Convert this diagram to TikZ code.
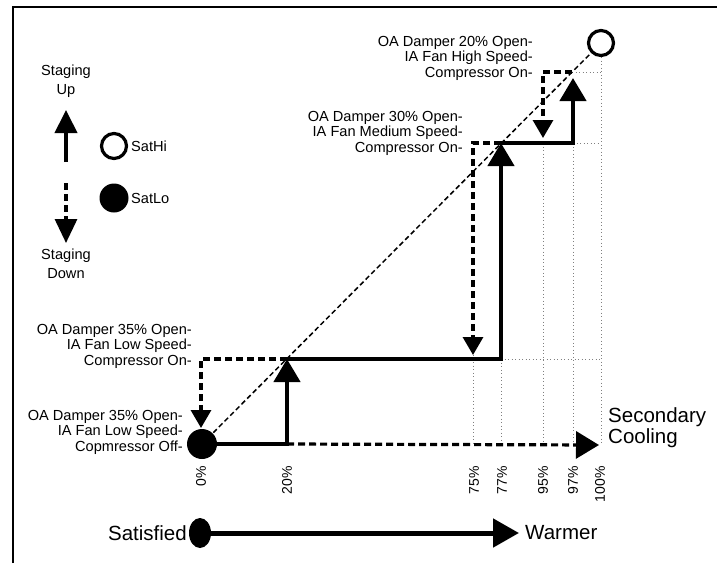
\documentclass[tikz,border=0pt]{standalone}
\usepackage{fontspec}
\setmainfont{Liberation Sans}
\usetikzlibrary{arrows.meta,shapes.geometric}
\begin{document}
\begin{tikzpicture}[x=1pt,y=-1pt,
  lbl/.style={font=\fontsize{14.6}{15.5}\selectfont, align=right, inner sep=0pt, anchor=east},
  leg/.style={font=\fontsize{14.6}{18.5}\selectfont, align=center, inner sep=0pt},
  big/.style={font=\fontsize{20.5}{21}\selectfont, inner sep=0pt},
  tick/.style={font=\fontsize{14}{14}\selectfont, rotate=90, anchor=east, inner sep=0pt},
  stair/.style={line width=4.5pt},
  stairarrow/.style={line width=4.5pt, -{Triangle[length=23pt,width=26pt]}},
  downarrow/.style={line width=3.2pt, dash pattern=on 7pt off 4pt, -{Triangle[length=18pt,width=20pt]}},
  diag/.style={line width=1.5pt, dash pattern=on 5pt off 3pt},
  gridline/.style={line width=0.9pt, gray, dash pattern=on 1pt off 2.5pt},
  openpt/.style={circle, draw, line width=3.2pt, fill=white, minimum size=25pt, inner sep=0pt},
  fullpt/.style={circle, fill, minimum size=30pt, inner sep=0pt}
]
\useasboundingbox (0,0) rectangle (717,563);
% frame
\draw[line width=2pt] (13,563) -- (13,6.5) -- (717,6.5);

% key coordinates
\coordinate (p0) at (202,444);
\coordinate (p20b) at (287,444);
\coordinate (p20t) at (287,359);
\coordinate (p77b) at (501,359);
\coordinate (p77t) at (501,143);
\coordinate (p97b) at (573,143);
\coordinate (p97t) at (573,78);
\coordinate (dg97) at (572,72);
\coordinate (phi) at (601,43);
\coordinate (d0c) at (201,359);
\coordinate (d0e) at (201,428);
\coordinate (d75c) at (473,143);
\coordinate (d75e) at (473,355);
\coordinate (d95c) at (543,72);
\coordinate (d95e) at (543,138);
\coordinate (secend) at (599,445);
\coordinate (g75) at (473,445);
\coordinate (g77) at (501,445);
\coordinate (g95t) at (543,143);
\coordinate (g95) at (543,445);
\coordinate (g97) at (573,445);
\coordinate (g100t) at (601,57);
\coordinate (g100) at (601,445);
\coordinate (h359) at (601,359);
\coordinate (h143) at (601,143);
\coordinate (h72) at (601,72);

% dotted grid
\draw[gridline] (d75e) -- (g75);
\draw[gridline] (p77b) -- (g77);
\draw[gridline] (g95t) -- (g95);
\draw[gridline] (p97b) -- (g97);
\draw[gridline] (g100t) -- (g100);
\draw[gridline] (p77b) -- (h359);
\draw[gridline] (p97b) -- (h143);
\draw[gridline] (dg97) -- (h72);

% diagonal
\draw[diag] (p0) -- (phi);

% staging down (dashed)
\draw[downarrow] (p20t) -- (d0c) -- (d0e);
\draw[downarrow] (p77t) -- (d75c) -- (d75e);
\draw[downarrow] (dg97) -- (d95c) -- (d95e);
\draw[line width=3.2pt, dash pattern=on 7pt off 4pt, -{Triangle[length=23pt,width=27pt]}] (p20b) -- (secend);

% staging up (solid)
\draw[stairarrow] (p0) -- (p20b) -- (p20t);
\draw[stairarrow] (p20t) -- (p77b) -- (p77t);
\draw[stairarrow] (p77t) -- (p97b) -- (p97t);

% end points
\node[fullpt] (satlo) at (p0) {};
\node[openpt] (sathi) at (phi) {};

% state labels
\node[lbl] (stoff) at (183,432) {OA Damper 35\% Open-\\IA Fan Low Speed-\\Copmressor Off-};
\node[lbl] (stlow) at (192,346) {OA Damper 35\% Open-\\IA Fan Low Speed-\\Compressor On-};
\node[lbl] (stmed) at (463,133) {OA Damper 30\% Open-\\IA Fan Medium Speed-\\Compressor On-};
\node[lbl] (sthigh) at (533,58) {OA Damper 20\% Open-\\IA Fan High Speed-\\Compressor On-};
\node[big, anchor=west, align=left] (sec) at (608,428) {Secondary\\Cooling};

% ticks
\node[tick] (t0) at (201,466) {0\%};
\node[tick] (t20) at (287,466) {20\%};
\node[tick] (t75) at (474,466) {75\%};
\node[tick] (t77) at (502,466) {77\%};
\node[tick] (t95) at (543,466) {95\%};
\node[tick] (t97) at (573,466) {97\%};
\node[tick] (t100) at (600,466) {100\%};

% legend
\node[leg] (lup) at (66,81) {Staging\\Up};
\coordinate (lupb) at (66,162);
\coordinate (lupt) at (66,110);
\draw[line width=4pt, -{Triangle[length=23pt,width=22pt]}] (lupb) -- (lupt);
\coordinate (ldnt) at (66,183);
\coordinate (ldnb) at (66,243);
\draw[line width=3.2pt, dash pattern=on 7pt off 4pt, -{Triangle[length=24pt,width=22pt]}] (ldnt) -- (ldnb);
\node[leg] (ldn) at (66,264) {Staging\\Down};
\node[openpt] (lhi) at (114,146) {};
\node[font=\fontsize{14.6}{15.5}\selectfont, anchor=west, inner sep=0pt] (lhit) at (131,146) {SatHi};
\node[fullpt, minimum size=29pt] (llo) at (114,198) {};
\node[font=\fontsize{14.6}{15.5}\selectfont, anchor=west, inner sep=0pt] (llot) at (131,198) {SatLo};

% bottom scale
\node[ellipse, fill, minimum width=22pt, minimum height=30pt, inner sep=0pt] (sat) at (200,533) {};
\coordinate (warmtip) at (519,533);
\draw[line width=5pt, -{Triangle[length=26pt,width=28pt]}] (sat.center) -- (warmtip);
\node[big, anchor=east] (satt) at (187,533) {Satisfied};
\node[big, anchor=west] (warm) at (525,533) {Warmer};
\end{tikzpicture}
\end{document}
